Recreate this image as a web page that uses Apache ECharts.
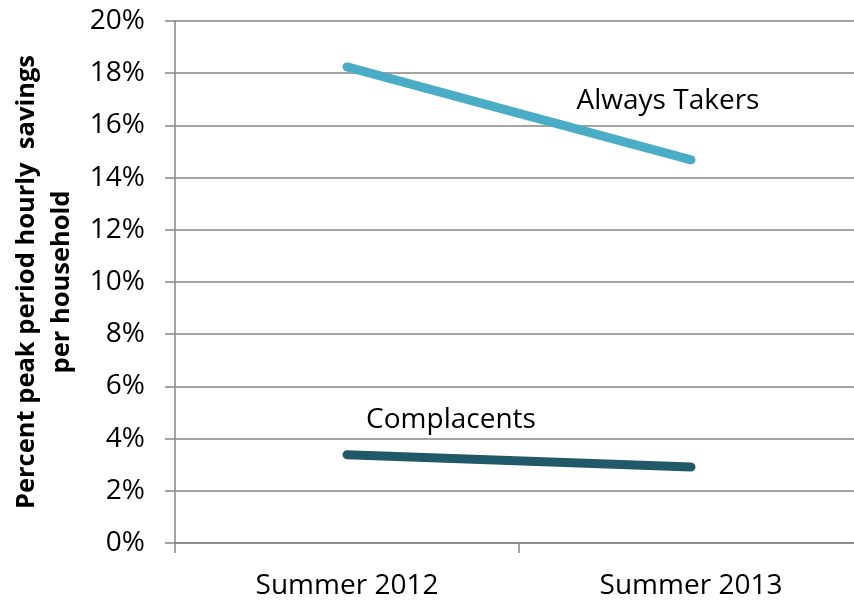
<!DOCTYPE html>
<html><head><meta charset="utf-8">
<script src="https://cdn.jsdelivr.net/npm/echarts@6/dist/echarts.min.js"></script>
<style>html,body{margin:0;padding:0;background:#fff}#c{width:854px;height:601px}</style>
</head><body><div id="c"></div>
<script>
const categories = ["Summer 2012", "Summer 2013"];
const alwaysTakers = [18.24, 14.68];
const complacents = [3.38, 2.91];
const yTicks = [0, 2, 4, 6, 8, 10, 12, 14, 16, 18, 20];
const seriesNames = ["Always Takers", "Complacents"];

const FONT = "Open Sans";
const chart = echarts.init(document.getElementById('c'), null, {renderer: 'canvas'});

function withLabel(values, idx, labelOpt) {
  return values.map((v, i) => i === idx ? {value: v, label: Object.assign({show: true}, labelOpt)} : v);
}

chart.setOption({
  animation: false,
  backgroundColor: '#fff',
  grid: {left: 175, top: 21, width: 688, bottom: 58, containLabel: false, outerBoundsMode: 'none'},
  xAxis: {
    type: 'category',
    data: categories,
    boundaryGap: true,
    axisLine: {lineStyle: {color: '#868686', width: 1.5}},
    axisTick: {show: true, length: 10, alignWithLabel: false, lineStyle: {color: '#868686', width: 1.5}},
    axisLabel: {color: '#000', fontFamily: FONT, fontSize: 28, margin: 29},
    splitLine: {show: false}
  },
  yAxis: {
    type: 'value',
    min: yTicks[0], max: yTicks[yTicks.length - 1], interval: 2,
    name: 'Percent peak period hourly  savings\nper household',
    nameLocation: 'middle',
    nameRotate: 90,
    nameGap: 93,
    nameTextStyle: {color: '#000', fontFamily: FONT, fontSize: 25.5, fontWeight: 'bold', lineHeight: 35},
    axisLine: {show: true, lineStyle: {color: '#868686', width: 1.5}},
    axisTick: {show: true, length: 10, inside: false, lineStyle: {color: '#868686', width: 1.5}},
    axisLabel: {color: '#000', fontFamily: FONT, fontSize: 28, margin: 30, formatter: v => v + '%'},
    splitLine: {show: true, lineStyle: {color: '#868686', width: 1.5}}
  },
  series: [
    {
      name: seriesNames[0], type: 'line',
      data: withLabel(alwaysTakers, 1, {position: 'top', offset: [-23, -39], color: '#000', fontFamily: FONT, fontSize: 28, formatter: seriesNames[0]}),
      symbol: 'circle', symbolSize: 1, showSymbol: true,
      lineStyle: {color: '#4BACC6', width: 9, cap: 'round'},
      itemStyle: {color: '#4BACC6'},
      label: {show: false}
    },
    {
      name: seriesNames[1], type: 'line',
      data: withLabel(complacents, 0, {position: 'top', offset: [104, -15], color: '#000', fontFamily: FONT, fontSize: 28, formatter: seriesNames[1]}),
      symbol: 'circle', symbolSize: 1, showSymbol: true,
      lineStyle: {color: '#215968', width: 9, cap: 'round'},
      itemStyle: {color: '#215968'},
      label: {show: false}
    }
  ]
});
</script></body></html>
